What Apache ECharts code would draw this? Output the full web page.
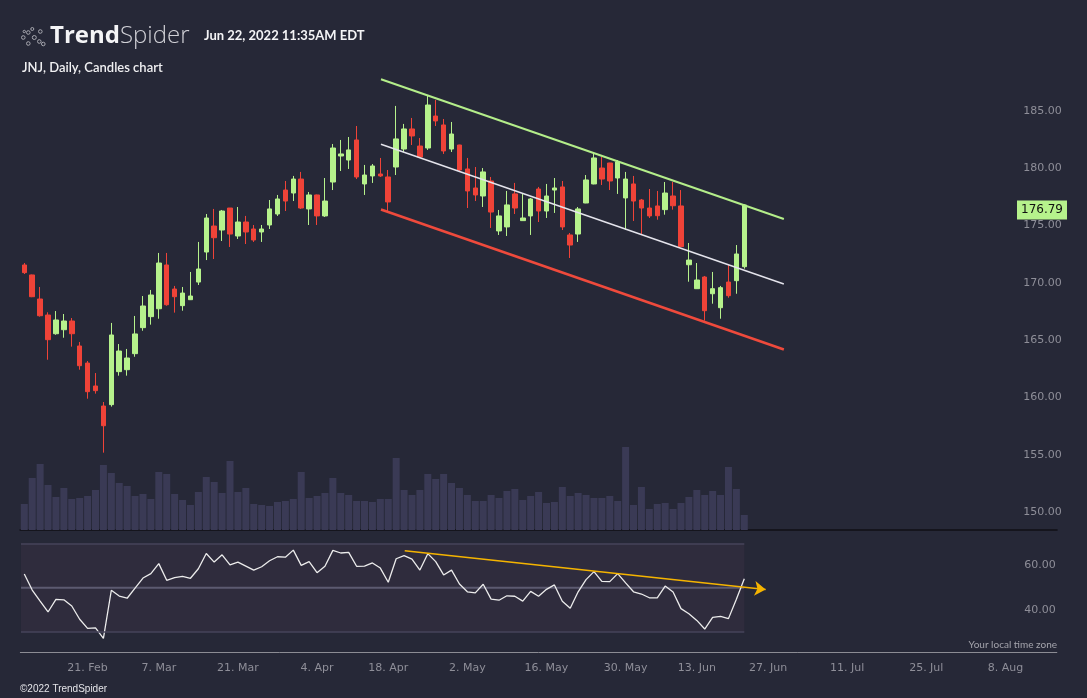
<!DOCTYPE html>
<html><head><meta charset="utf-8">
<script src="https://cdn.jsdelivr.net/npm/echarts@6/dist/echarts.min.js"></script>
<style>html,body{margin:0;padding:0;background:#262837;}#c{width:1087px;height:698px;}</style>
</head><body><div id="c"></div>
<script>
// ---- DATA ----
const opens  = [171.56,170.69,168.59,167.19,165.56,165.91,166.67,164.49,163.00,161.00,159.25,159.37,162.25,162.42,163.82,166.09,167.05,167.74,171.56,169.46,168.01,168.53,170.07,172.69,174.96,174.61,176.53,174.09,175.31,174.70,174.44,175.05,176.01,178.10,177.84,179.06,176.45,177.67,175.84,178.80,181.07,180.72,182.47,178.63,179.33,179.50,179.24,180.11,181.68,183.43,181.94,181.77,184.56,183.78,181.68,182.03,179.94,178.28,177.58,178.89,174.53,174.88,177.76,175.43,175.84,178.19,176.27,178.10,178.37,174.18,174.26,176.97,178.63,180.02,180.46,179.15,177.41,178.63,177.23,176.53,176.71,176.39,177.58,176.71,171.58,169.49,170.51,169.05,167.83,170.07,170.19,171.41];
const highs  = [171.73,170.72,169.64,167.43,167.54,167.28,166.93,164.84,163.18,162.13,159.60,166.50,164.66,164.23,167.11,168.85,169.38,172.61,172.61,169.73,169.64,170.95,173.57,176.01,176.45,176.36,176.53,176.62,175.84,175.05,175.05,177.23,177.67,178.89,179.33,179.68,177.93,177.70,179.15,182.12,182.47,182.73,183.69,180.29,180.37,180.90,179.85,185.44,183.87,184.39,182.64,186.31,185.96,184.30,184.04,182.05,180.90,180.11,180.02,179.24,176.36,178.02,178.72,177.76,177.41,178.37,178.63,179.15,178.89,174.35,176.62,179.41,181.33,180.98,180.48,180.72,179.68,179.33,177.32,178.19,178.02,178.80,178.80,178.10,173.48,171.73,170.60,170.95,169.73,171.56,173.30,176.85];
const lows   = [170.77,168.75,167.05,163.29,165.47,165.21,164.43,162.42,159.89,160.33,155.18,159.20,161.90,161.90,163.55,165.82,166.35,166.87,168.00,167.40,167.57,168.50,169.81,171.99,172.08,173.65,173.13,173.83,173.39,173.57,173.57,174.70,175.84,176.27,177.14,176.45,175.05,175.05,175.75,178.10,179.76,179.94,179.06,177.67,178.72,179.24,176.27,179.41,181.42,182.03,180.90,181.60,183.69,181.25,181.42,179.76,176.53,177.14,176.62,174.79,174.18,174.09,176.01,175.40,174.18,175.31,175.66,176.10,174.61,172.17,173.57,176.95,178.60,178.54,178.10,177.76,174.61,175.40,174.26,175.66,175.51,175.95,176.39,173.14,170.10,169.47,166.70,168.18,166.87,168.70,169.05,171.24];
const closes = [170.89,168.79,167.13,165.04,166.76,166.67,165.56,162.77,160.50,160.59,157.53,165.45,164.05,163.44,165.54,167.98,168.94,171.73,168.09,168.79,169.11,168.85,171.21,175.66,173.94,176.27,174.26,175.31,174.44,173.74,174.70,176.45,177.32,177.14,179.06,176.53,177.67,175.84,177.14,181.77,181.25,181.60,179.24,179.41,180.20,179.33,177.06,182.56,183.43,182.82,180.98,185.52,184.13,181.51,182.99,179.85,178.02,177.67,179.68,176.18,175.84,176.80,176.53,175.66,177.32,176.27,177.58,178.28,174.88,173.30,176.45,178.98,180.90,179.06,178.89,180.55,179.06,177.14,176.53,175.84,175.86,177.84,176.73,173.16,171.99,170.25,167.57,169.49,169.58,168.88,172.52,176.79];
// volume, millions of shares
const volumes = [5.2,10.4,13.2,9.0,6.6,8.4,6.2,6.4,6.8,8.0,13.0,11.4,9.4,8.8,6.8,7.2,6.2,11.6,11.2,7.2,6.0,5.0,7.6,10.6,9.6,7.4,13.8,7.6,8.4,5.2,5.0,4.8,5.6,5.8,6.2,11.6,6.4,6.8,7.4,10.4,7.4,7.0,5.8,5.8,5.6,6.2,6.2,14.4,8.0,7.0,8.0,11.2,10.2,11.2,9.4,8.4,7.0,5.8,5.8,7.0,6.4,7.8,8.2,6.0,6.8,7.6,5.4,5.6,8.6,6.8,7.4,7.0,6.4,6.4,6.8,5.8,16.6,5.0,8.6,4.2,5.2,5.4,4.2,5.4,6.6,8.0,7.0,7.8,7.0,12.6,8.2,3.0];
const rsi = [56.2,49.0,44.0,39.1,44.8,44.6,41.8,35.8,31.7,31.9,27.2,48.9,46.3,45.3,49.9,54.4,56.4,60.9,53.4,54.6,55.2,54.3,58.6,65.5,61.6,64.9,60.3,61.6,59.8,58.0,59.5,62.2,64.0,63.8,67.0,60.1,61.8,56.8,59.7,66.9,65.7,66.0,59.7,59.8,61.2,58.9,52.5,63.1,64.5,62.9,58.0,65.4,61.8,55.8,58.0,51.7,48.2,47.7,51.6,44.9,44.4,46.4,46.2,44.0,48.4,46.2,49.3,51.3,43.9,40.8,48.2,53.7,57.3,52.9,52.8,56.4,52.2,48.2,47.2,45.5,45.5,50.8,48.1,40.6,38.3,35.3,31.4,36.7,37.1,36.1,44.8,54.1];
const firstDate = '2022-02-09';
const holidays = ['2022-02-21','2022-04-15','2022-05-30','2022-06-20'];
const futureDays = 39;
const tickDates  = ['2022-02-22','2022-03-07','2022-03-21','2022-04-04','2022-04-18','2022-05-02','2022-05-16','2022-05-31','2022-06-13','2022-06-27','2022-07-11','2022-07-25','2022-08-08'];
const tickLabels = ['21. Feb','7. Mar','21. Mar','4. Apr','18. Apr','2. May','16. May','30. May','13. Jun','27. Jun','11. Jul','25. Jul','8. Aug'];
const priceTicks = [150,155,160,165,170,175,180,185];
const rsiTicks = [40,60];
const rsiLevels = [30,50,70];
const channelX = [45.08, 96.0];
const channelUpper = [187.77, 175.57];
const channelMid   = [182.09, 169.90];
const channelLower = [176.40, 164.18];
const rsiTrendX = [48.08, 93.7];
const rsiTrendY = [66.7, 49.2];
const headerTitle = ['Trend','Spider'];
const headerDate = 'Jun 22, 2022 11:35AM EDT';
const chartName = 'JNJ, Daily, Candles chart';

// ---- CATEGORIES ----
function fmt(d){ return d.toISOString().slice(0,10); }
const dates = [];
let d = new Date(firstDate + 'T12:00:00Z');
while (dates.length < closes.length) {
  const s = fmt(d), wd = d.getUTCDay();
  if (wd > 0 && wd < 6 && holidays.indexOf(s) < 0) dates.push(s);
  d.setUTCDate(d.getUTCDate() + 1);
}
const cats = dates.slice();
let added = 0;
while (added < futureDays) {
  const wd = d.getUTCDay();
  if (wd > 0 && wd < 6) { cats.push(fmt(d)); added++; }
  d.setUTCDate(d.getUTCDate() + 1);
}
const N = cats.length;
const lastIdx = dates.length - 1;

// ---- LAYOUT ----
const LEFT = 20.34, BAND = 7.912;
const RIGHT = 1087 - (LEFT + N * BAND);
const UP = '#b6f28c', DOWN = '#ef4338';
const showTick = (i, v) => tickDates.indexOf(v) >= 0;
// horizontal offset from last candle centre to the price tag at the right edge
const tagOffsetX = (1042 - (LEFT + (lastIdx + 0.5) * BAND));

const chart = echarts.init(document.getElementById('c'), null, {renderer: 'canvas'});
const lbl = {color: '#8e8e98', fontSize: 11, fontFamily: 'DejaVu Sans'};

chart.setOption({
  animation: false,
  backgroundColor: '#262837',
  grid: [
    {left: LEFT, right: RIGHT, top: 75, height: 455},
    {left: LEFT, right: RIGHT, top: 440, height: 90},
    {left: LEFT, right: RIGHT, top: 535, height: 117.3}
  ],
  xAxis: [
    {type: 'category', gridIndex: 0, data: cats, axisLine: {lineStyle: {color: '#15151d', width: 2}}, axisTick: {show: false}, axisLabel: {show: false}, splitLine: {show: false}},
    {type: 'category', gridIndex: 1, data: cats, show: false},
    {type: 'category', gridIndex: 2, data: cats,
      axisLine: {lineStyle: {color: '#8c8c94', width: 1}},
      axisTick: {alignWithLabel: true, interval: showTick, length: 8, lineStyle: {color: '#8c8c94'}},
      axisLabel: Object.assign({interval: showTick, margin: 10, formatter: v => tickLabels[tickDates.indexOf(v)]}, lbl),
      splitLine: {show: false}},
    {type: 'value', gridIndex: 0, min: -0.5, max: N - 0.5, show: false},
    {type: 'value', gridIndex: 2, min: -0.5, max: N - 0.5, show: false}
  ],
  yAxis: [
    {type: 'value', gridIndex: 0, position: 'right', min: 148.43, max: 188.14, scale: true,
      axisLine: {show: false}, axisTick: {show: false}, splitLine: {show: false},
      axisLabel: Object.assign({inside: true, margin: -5, customValues: priceTicks, formatter: v => v.toFixed(2)}, lbl)},
    {type: 'value', gridIndex: 1, min: 0, max: 18, show: false},
    {type: 'value', gridIndex: 2, position: 'right', min: 20.91, max: 73.82, scale: true,
      axisLine: {show: false}, axisTick: {show: false}, splitLine: {show: false},
      axisLabel: Object.assign({inside: true, margin: 1, customValues: rsiTicks, formatter: v => v.toFixed(2)}, lbl)}
  ],
  series: [
    {type: 'bar', name: 'Volume', xAxisIndex: 1, yAxisIndex: 1, data: volumes, barWidth: 7, z: 1,
      itemStyle: {color: '#3a3a55'}},
    {type: 'candlestick', name: 'JNJ', xAxisIndex: 0, yAxisIndex: 0, z: 5, barWidth: 5,
      data: dates.map((_, i) => [opens[i], closes[i], lows[i], highs[i]]),
      itemStyle: {color: UP, color0: DOWN, borderColor: UP, borderColor0: DOWN, borderWidth: 1},
      markPoint: {silent: true, animation: false,
        symbol: 'rect', symbolSize: [50, 19], symbolOffset: [tagOffsetX, 5],
        itemStyle: {color: UP},
        label: {show: true, position: 'inside', offset: [0, 0], color: '#111', fontSize: 12, fontFamily: 'DejaVu Sans',
          formatter: () => closes[lastIdx].toFixed(2)},
        data: [{coord: [dates[lastIdx], closes[lastIdx]], value: closes[lastIdx]}]}},
    {type: 'line', name: 'Upper', xAxisIndex: 3, yAxisIndex: 0, z: 6, showSymbol: false, silent: true,
      lineStyle: {color: '#b4ee8a', width: 2}, data: channelX.map((x, i) => [x, channelUpper[i]])},
    {type: 'line', name: 'Middle', xAxisIndex: 3, yAxisIndex: 0, z: 6, showSymbol: false, silent: true,
      lineStyle: {color: '#e4e4ec', width: 1.5}, data: channelX.map((x, i) => [x, channelMid[i]])},
    {type: 'line', name: 'Lower', xAxisIndex: 3, yAxisIndex: 0, z: 6, showSymbol: false, silent: true,
      lineStyle: {color: '#ef4a3c', width: 2.5}, data: channelX.map((x, i) => [x, channelLower[i]])},
    {type: 'line', name: 'RSI mid', xAxisIndex: 4, yAxisIndex: 2, z: 1, showSymbol: false, silent: true,
      lineStyle: {color: '#5c5a70', width: 2},
      data: [[-0.42, rsiLevels[1]], [lastIdx, rsiLevels[1]]],
      markArea: {silent: true, itemStyle: {color: '#2f2c3d'},
        data: [[{coord: [-0.42, rsiLevels[0]]}, {coord: [lastIdx, rsiLevels[2]]}]]},
      markLine: {silent: true, symbol: 'none', label: {show: false}, lineStyle: {color: '#46435a', width: 1.5, type: 'solid'},
        data: [[{coord: [-0.42, rsiLevels[2]]}, {coord: [lastIdx, rsiLevels[2]]}],
               [{coord: [-0.42, rsiLevels[0]]}, {coord: [lastIdx, rsiLevels[0]]}]]}},
    {type: 'line', name: 'RSI', xAxisIndex: 2, yAxisIndex: 2, z: 4, showSymbol: false, silent: true,
      lineStyle: {color: '#ececec', width: 1.3}, data: rsi},
    {type: 'lines', name: 'RSI trend', coordinateSystem: 'cartesian2d', xAxisIndex: 4, yAxisIndex: 2, z: 6, silent: true,
      symbol: ['none', 'arrow'], symbolSize: 11,
      lineStyle: {color: '#f5b400', width: 1.5, opacity: 1},
      data: [{coords: [[rsiTrendX[0], rsiTrendY[0]], [rsiTrendX[1], rsiTrendY[1]]]}]}
  ],
  graphic: [
    {type: 'group', left: 19, top: 25, children: [
      {type: 'circle', shape: {cx: 3, cy: 10, r: 1.8}, style: {fill: 'none', stroke: '#a8a8b0', lineWidth: 1}},
      {type: 'circle', shape: {cx: 8, cy: 5, r: 1.8}, style: {fill: 'none', stroke: '#a8a8b0', lineWidth: 1}},
      {type: 'circle', shape: {cx: 12, cy: 1.5, r: 1.5}, style: {fill: 'none', stroke: '#a8a8b0', lineWidth: 1}},
      {type: 'circle', shape: {cx: 14, cy: 10, r: 2}, style: {fill: 'none', stroke: '#a8a8b0', lineWidth: 1}},
      {type: 'circle', shape: {cx: 20, cy: 4, r: 1.8}, style: {fill: 'none', stroke: '#a8a8b0', lineWidth: 1}},
      {type: 'circle', shape: {cx: 8, cy: 16, r: 1.8}, style: {fill: 'none', stroke: '#a8a8b0', lineWidth: 1}},
      {type: 'circle', shape: {cx: 19, cy: 14, r: 1.8}, style: {fill: 'none', stroke: '#a8a8b0', lineWidth: 1}},
      {type: 'circle', shape: {cx: 23, cy: 16.5, r: 1.8}, style: {fill: 'none', stroke: '#a8a8b0', lineWidth: 1}},
      {type: 'circle', shape: {cx: 4, cy: 4, r: 1.2}, style: {fill: 'none', stroke: '#a8a8b0', lineWidth: 1}}
    ]},
    {type: 'text', x: 50, y: 36, style: {text: '{a|' + headerTitle[0] + '}{b|' + headerTitle[1] + '}', textVerticalAlign: 'middle',
      rich: {a: {fill: '#f4f4f6', font: '700 24px "Open Sans"'}, b: {fill: '#d0d0d6', font: '300 24px "Open Sans"'}}}},
    {type: 'text', x: 204, y: 36, style: {text: headerDate, fill: '#f4f4f6', font: '700 13px Lato', textVerticalAlign: 'middle'}},
    {type: 'text', x: 22, y: 68, style: {text: chartName, fill: '#f0f0f2', font: '600 13px Lato', textVerticalAlign: 'middle'}},
    {type: 'text', x: 1057, y: 645, style: {text: 'Your local time zone', fill: '#a4a4ac', font: '10px Lato', textAlign: 'right', textVerticalAlign: 'middle'}},
    {type: 'text', x: 20, y: 689, style: {text: '©2022 TrendSpider', fill: '#e4e4e8', font: '10px "Liberation Sans"', textVerticalAlign: 'middle'}}
  ]
});
</script></body></html>
